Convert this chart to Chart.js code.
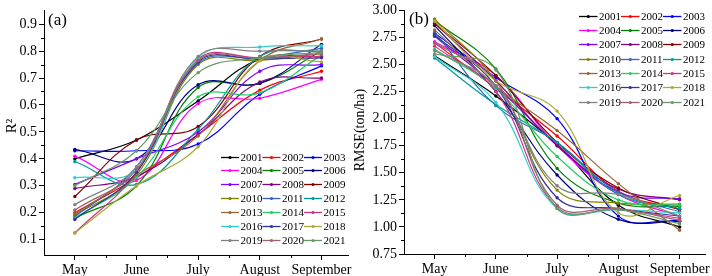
<!DOCTYPE html>
<html><head><meta charset="utf-8">
<script src="https://cdn.jsdelivr.net/npm/chart.js@4.4.1/dist/chart.umd.min.js"></script>
<style>
html,body{margin:0;padding:0;background:#fff;}
#wrap{position:relative;width:712px;height:276px;overflow:hidden;background:#fff;}
canvas{position:absolute;top:0;}
#ca{left:0;}
#cb{left:348px;}
</style></head><body>
<div id="wrap">
<canvas id="ca" width="360" height="276"></canvas>
<canvas id="cb" width="364" height="276"></canvas>
</div>
<script>
// ---------- data ----------
const months = ['May', 'June', 'July', 'August', 'September'];
const years = ['2001','2002','2003','2004','2005','2006','2007','2008','2009','2010',
               '2011','2012','2013','2014','2015','2016','2017','2018','2019','2020','2021'];
const colors = ['#000000','#FF0000','#0000FF','#FF00FF','#008000','#000080','#8000FF',
                '#800080','#800000','#808000','#3366BB','#009999','#996633','#22CC66',
                '#CC3388','#33CCCC','#333399','#AAAA33','#808080','#A06070','#669966'];
// R^2 per year: May, June, July, August, September
const r2Values = [
  [0.40, 0.47, 0.615, 0.77, 0.78],   // 2001
  [0.20, 0.33, 0.49, 0.655, 0.725],  // 2002
  [0.43, 0.43, 0.455, 0.64, 0.745],  // 2003
  [0.41, 0.32, 0.605, 0.625, 0.695], // 2004
  [0.18, 0.30, 0.665, 0.68, 0.80],   // 2005
  [0.435, 0.40, 0.675, 0.68, 0.825], // 2006
  [0.305, 0.40, 0.50, 0.725, 0.75],  // 2007
  [0.29, 0.335, 0.49, 0.685, 0.70],  // 2008
  [0.26, 0.47, 0.52, 0.78, 0.845],   // 2009
  [0.19, 0.34, 0.75, 0.765, 0.79],   // 2010
  [0.185, 0.37, 0.755, 0.775, 0.81], // 2011
  [0.39, 0.305, 0.51, 0.78, 0.80],   // 2012
  [0.195, 0.34, 0.485, 0.765, 0.845],// 2013
  [0.18, 0.33, 0.63, 0.645, 0.785],  // 2014
  [0.125, 0.35, 0.77, 0.775, 0.78],  // 2015
  [0.33, 0.36, 0.775, 0.815, 0.82],  // 2016
  [0.175, 0.35, 0.76, 0.77, 0.775],  // 2017
  [0.125, 0.30, 0.445, 0.765, 0.76], // 2018
  [0.23, 0.37, 0.78, 0.80, 0.80],    // 2019
  [0.21, 0.36, 0.765, 0.775, 0.79],  // 2020
  [0.30, 0.43, 0.72, 0.775, 0.795]   // 2021
];
// RMSE (ton/ha) per year: May, June, July, August, September
const rmseValues = [
  [2.58, 2.21, 1.76, 1.20, 1.00],  // 2001
  [2.70, 2.28, 1.84, 1.33, 1.16],  // 2002
  [2.79, 2.38, 2.00, 1.10, 1.06],  // 2003
  [2.71, 2.40, 1.75, 1.30, 1.10],  // 2004
  [2.905, 2.46, 1.54, 1.22, 1.19], // 2005
  [2.86, 2.25, 1.48, 1.07, 1.05],  // 2006
  [2.76, 2.30, 1.76, 1.32, 1.26],  // 2007
  [2.88, 2.35, 1.75, 1.35, 1.25],  // 2008
  [2.88, 2.40, 1.78, 1.36, 1.16],  // 2009
  [2.92, 2.35, 1.34, 1.22, 1.21],  // 2010
  [2.80, 2.12, 1.78, 1.32, 1.14],  // 2011
  [2.56, 2.13, 1.78, 1.30, 1.17],  // 2012
  [2.82, 2.30, 1.89, 1.40, 0.97],  // 2013
  [2.64, 2.28, 1.65, 1.25, 1.20],  // 2014
  [2.67, 2.25, 1.18, 1.16, 1.08],  // 2015
  [2.575, 2.15, 1.17, 1.16, 1.13], // 2016
  [2.77, 2.30, 1.27, 1.17, 1.10],  // 2017
  [2.90, 2.35, 2.07, 1.13, 1.29],  // 2018
  [2.63, 2.30, 1.38, 1.30, 1.10],  // 2019
  [2.70, 2.35, 1.20, 1.17, 1.06],  // 2020
  [2.60, 2.45, 1.17, 1.16, 1.03]   // 2021
];
const r2Ticks = [0.1, 0.2, 0.3, 0.4, 0.5, 0.6, 0.7, 0.8, 0.9];
const rmseTicks = [0.75, 1.00, 1.25, 1.50, 1.75, 2.00, 2.25, 2.50, 2.75, 3.00];

// ---------- helpers ----------
const FONT = '"Liberation Serif", "Times New Roman", serif';
const midpoints = arr => arr.slice(1).map((v, i) => (v + arr[i]) / 2);

const extras = {
  id: 'extras',
  afterDraw(chart, args, o) {
    const ctx = chart.ctx, xs = chart.scales.x, ys = chart.scales.y;
    ctx.save();
    ctx.strokeStyle = '#000'; ctx.lineWidth = 1;
    o.xMinor.forEach(v => {
      const px = Math.round(xs.getPixelForValue(v)) + 0.5;
      ctx.beginPath(); ctx.moveTo(px, ys.bottom); ctx.lineTo(px, ys.bottom + 3); ctx.stroke();
    });
    o.yMinor.forEach(v => {
      const py = Math.round(ys.getPixelForValue(v)) + 0.5;
      ctx.beginPath(); ctx.moveTo(xs.left, py); ctx.lineTo(xs.left - 3, py); ctx.stroke();
    });
    ctx.fillStyle = '#000';
    // panel tag
    ctx.font = '17px ' + FONT; ctx.textBaseline = 'middle'; ctx.textAlign = 'left';
    ctx.fillText(o.tag, o.tagX, o.tagY);
    // y title
    ctx.save();
    ctx.translate(o.titleX, o.titleY); ctx.rotate(-Math.PI / 2);
    ctx.textAlign = 'center'; ctx.font = o.titleSize + 'px ' + FONT;
    ctx.fillText(o.title, 0, 0);
    ctx.restore();
    // legend
    ctx.font = '11px ' + FONT; ctx.textAlign = 'left'; ctx.textBaseline = 'middle';
    years.forEach((yr, i) => {
      const col = i % 3, row = Math.floor(i / 3);
      const x = o.lx + col * o.colW, y = Math.round(o.ly + row * o.rowH) + 0.5;
      ctx.strokeStyle = colors[i]; ctx.lineWidth = 1.3;
      ctx.beginPath(); ctx.moveTo(x, y); ctx.lineTo(x + o.lineW, y); ctx.stroke();
      ctx.fillStyle = colors[i];
      ctx.beginPath(); ctx.arc(x + o.lineW / 2, y, 1.6, 0, Math.PI * 2); ctx.fill();
      ctx.fillStyle = '#000';
      ctx.fillText(yr, x + o.lineW + 1.5, y + 0.5);
    });
    ctx.restore();
  }
};

function makePanel(id, values, yTicks, yMin, yMax, digits, pad, yAxisW, xAxisH, ex) {
  const datasets = values.map((vals, i) => ({
    label: years[i],
    data: vals.map((v, j) => ({ x: j + 1, y: v })),
    borderColor: colors[i],
    backgroundColor: colors[i],
    pointBackgroundColor: colors[i],
    pointBorderWidth: 0,
    pointRadius: 1.7,
    borderWidth: 1.2,
    tension: 0.4,
    fill: false,
    order: values.length - i
  }));
  const axisGrid = { display: true, drawOnChartArea: false, drawTicks: true, tickLength: 5, color: '#000', lineWidth: 1 };
  return new Chart(document.getElementById(id), {
    type: 'line',
    data: { datasets },
    plugins: [extras],
    options: {
      responsive: false, animation: false,
      layout: { padding: pad },
      plugins: { legend: { display: false }, tooltip: { enabled: false }, extras: ex },
      scales: {
        x: {
          type: 'linear', min: 0.5, max: 5.43,
          afterBuildTicks: a => { a.ticks = months.map((m, i) => ({ value: i + 1 })); },
          afterFit: a => { a.height = xAxisH; },
          ticks: { callback: v => months[Math.round(v) - 1], color: '#000', padding: 2,
                   maxRotation: 0, autoSkip: false, font: { family: FONT, size: 14 } },
          grid: axisGrid,
          border: { display: true, color: '#000', width: 1 }
        },
        y: {
          type: 'linear', min: yMin, max: yMax,
          afterBuildTicks: a => { a.ticks = yTicks.map(v => ({ value: v })); },
          afterFit: a => { a.width = yAxisW; },
          ticks: { callback: v => Number(v).toFixed(digits), color: '#000', padding: 2,
                   autoSkip: false, font: { family: FONT, size: 14 } },
          grid: axisGrid,
          border: { display: true, color: '#000', width: 1 }
        }
      }
    }
  });
}

makePanel('ca', r2Values, r2Ticks, 0.043, 0.951, 1,
  { top: 6, right: 12, bottom: 0, left: 0 }, 44, 21,
  { xMinor: midpoints([1, 2, 3, 4, 5]), yMinor: midpoints(r2Ticks),
    tag: '(a)', tagX: 48, tagY: 21, title: 'R²', titleX: 12, titleY: 126, titleSize: 15,
    lx: 221, ly: 156.5, colW: 41.5, rowH: 13.9, lineW: 18 });

makePanel('cb', rmseValues, rmseTicks, 0.75, 3.0, 2,
  { top: 7, right: 5, bottom: 0, left: 0 }, 56, 22,
  { xMinor: midpoints([1, 2, 3, 4, 5]), yMinor: midpoints(rmseTicks),
    tag: '(b)', tagX: 61, tagY: 20, title: 'RMSE(ton/ha)', titleX: 12, titleY: 130, titleSize: 14,
    lx: 231, ly: 15.7, colW: 42, rowH: 14.3, lineW: 18.5 });
</script>
</body></html>
